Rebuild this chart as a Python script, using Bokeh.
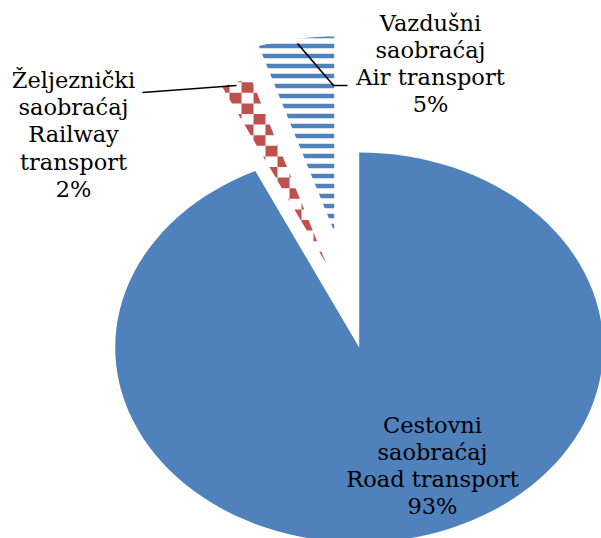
import numpy as np
from bokeh.plotting import figure
from bokeh.models import Range1d
from bokeh.core.properties import value
from bokeh.embed import file_html
from bokeh.resources import INLINE

# ---------------- data ----------------
names_local = ["Cestovni saobraćaj", "Željeznički saobraćaj", "Vazdušni saobraćaj"]
names_en = ["Road transport", "Railway transport", "Air transport"]
shares = [93, 2, 5]

# ---------------- layout / style ----------------
W, H = 601, 538
CX, CY = 358.7, 347.0      # pie centre in pixels
RX, RY = 244.0, 195.0      # pie radii in pixels (stretched pie)
explode_px = [(0, 0), (-33, -84), (-25, -116)]
wrap_en = [False, True, False]
label_px = [(432, 465), (73, 134), (430, 63)]
BLUE = "#4F81BD"
RED = "#C0504D"
FONT = "DejaVu Serif"
CHECK_W, CHECK_H = 12.0, 10.6     # checker cell size (px)
CHECK_X0, CHECK_Y0 = 241.0, 81.7  # checker phase (px)


def px2d(px, py):
    return (px - CX) / RX, (CY - py) / RY


def clip_convex(subject, clipper):
    """Sutherland-Hodgman clip of polygon `subject` by convex polygon `clipper`."""
    n = len(clipper)
    area = sum(clipper[k][0] * clipper[(k + 1) % n][1] - clipper[(k + 1) % n][0] * clipper[k][1]
               for k in range(n))
    sgn = 1.0 if area > 0 else -1.0
    out = list(subject)
    for k in range(n):
        a = clipper[k]
        b = clipper[(k + 1) % n]
        if not out:
            break
        inp, out = out, []

        def side(pt):
            return sgn * ((b[0] - a[0]) * (pt[1] - a[1]) - (b[1] - a[1]) * (pt[0] - a[0]))

        def inter(p1, p2):
            s1, s2 = side(p1), side(p2)
            t = s1 / (s1 - s2)
            return (p1[0] + t * (p2[0] - p1[0]), p1[1] + t * (p2[1] - p1[1]))

        s = inp[-1]
        for e in inp:
            if side(e) >= 0:
                if side(s) < 0:
                    out.append(inter(s, e))
                out.append(e)
            elif side(s) >= 0:
                out.append(inter(s, e))
            s = e
    return out


p = figure(width=W, height=H, output_backend="svg", toolbar_location=None,
           x_range=Range1d(-CX / RX, (W - CX) / RX),
           y_range=Range1d((CY - H) / RY, CY / RY),
           x_axis_type=None, y_axis_type=None, min_border=0)
p.grid.visible = False
p.outline_line_color = None
p.background_fill_color = "white"
p.border_fill_color = "white"

total = float(sum(shares))
fracs = np.array(shares) / total
ends = np.cumsum(fracs) * 2 * np.pi
starts = ends - fracs * 2 * np.pi

for i in range(len(shares)):
    th = np.linspace(starts[i], ends[i], 120)
    ox, oy = explode_px[i][0] / RX, -explode_px[i][1] / RY
    xs = np.concatenate([[0.0], np.sin(th), [0.0]]) + ox
    ys = np.concatenate([[0.0], np.cos(th), [0.0]]) + oy
    if i == 0:
        p.patch(xs, ys, fill_color=BLUE, line_color=None)
    elif i == 1:
        # checkerboard fill: cells clipped to the wedge (in pixel space)
        tipx, tipy = CX + explode_px[i][0], CY + explode_px[i][1]
        wedge = [(tipx, tipy)] + [(tipx + RX * np.sin(t), tipy - RY * np.cos(t)) for t in th]
        wx = [q[0] for q in wedge]
        wy = [q[1] for q in wedge]
        i0 = int(np.floor((min(wx) - CHECK_X0) / CHECK_W)) - 1
        i1 = int(np.ceil((max(wx) - CHECK_X0) / CHECK_W)) + 1
        j0 = int(np.floor((min(wy) - CHECK_Y0) / CHECK_H)) - 1
        j1 = int(np.ceil((max(wy) - CHECK_Y0) / CHECK_H)) + 1
        cxs, cys = [], []
        for ci in range(i0, i1 + 1):
            for cj in range(j0, j1 + 1):
                if (ci + cj) % 2:
                    continue
                x0 = CHECK_X0 + ci * CHECK_W
                y0 = CHECK_Y0 + cj * CHECK_H
                sq = [(x0, y0), (x0 + CHECK_W, y0), (x0 + CHECK_W, y0 + CHECK_H), (x0, y0 + CHECK_H)]
                poly = clip_convex(sq, wedge)
                if len(poly) >= 3:
                    dd = [px2d(a, b) for a, b in poly]
                    cxs.append([d[0] for d in dd])
                    cys.append([d[1] for d in dd])
        p.patches(cxs, cys, fill_color=RED, line_color=None)
    else:
        p.patch(xs, ys, fill_color="white", line_color=None,
                hatch_pattern="horizontal_line", hatch_color=BLUE,
                hatch_scale=10, hatch_weight=4.5)

# leader lines
for pts in ([(142, 92), (236, 85)], [(297, 43), (333, 85), (347, 85)]):
    dd = [px2d(a, b) for a, b in pts]
    p.line([d[0] for d in dd], [d[1] for d in dd], line_color="black", line_width=1.6)

# labels
labels = []
for i in range(len(shares)):
    loc = "\n".join(names_local[i].split(" "))
    en = "\n".join(names_en[i].split(" ")) if wrap_en[i] else names_en[i]
    labels.append(f"{loc}\n{en}\n{shares[i]}%")
lx = [px2d(*q)[0] for q in label_px]
ly = [px2d(*q)[1] for q in label_px]
p.text(lx, ly, text=labels, text_font=value(FONT), text_font_size="22.5px",
       text_align="center", text_baseline="middle", text_line_height=1.05,
       text_color="black")

open("out.html", "w").write(file_html(p, INLINE))
